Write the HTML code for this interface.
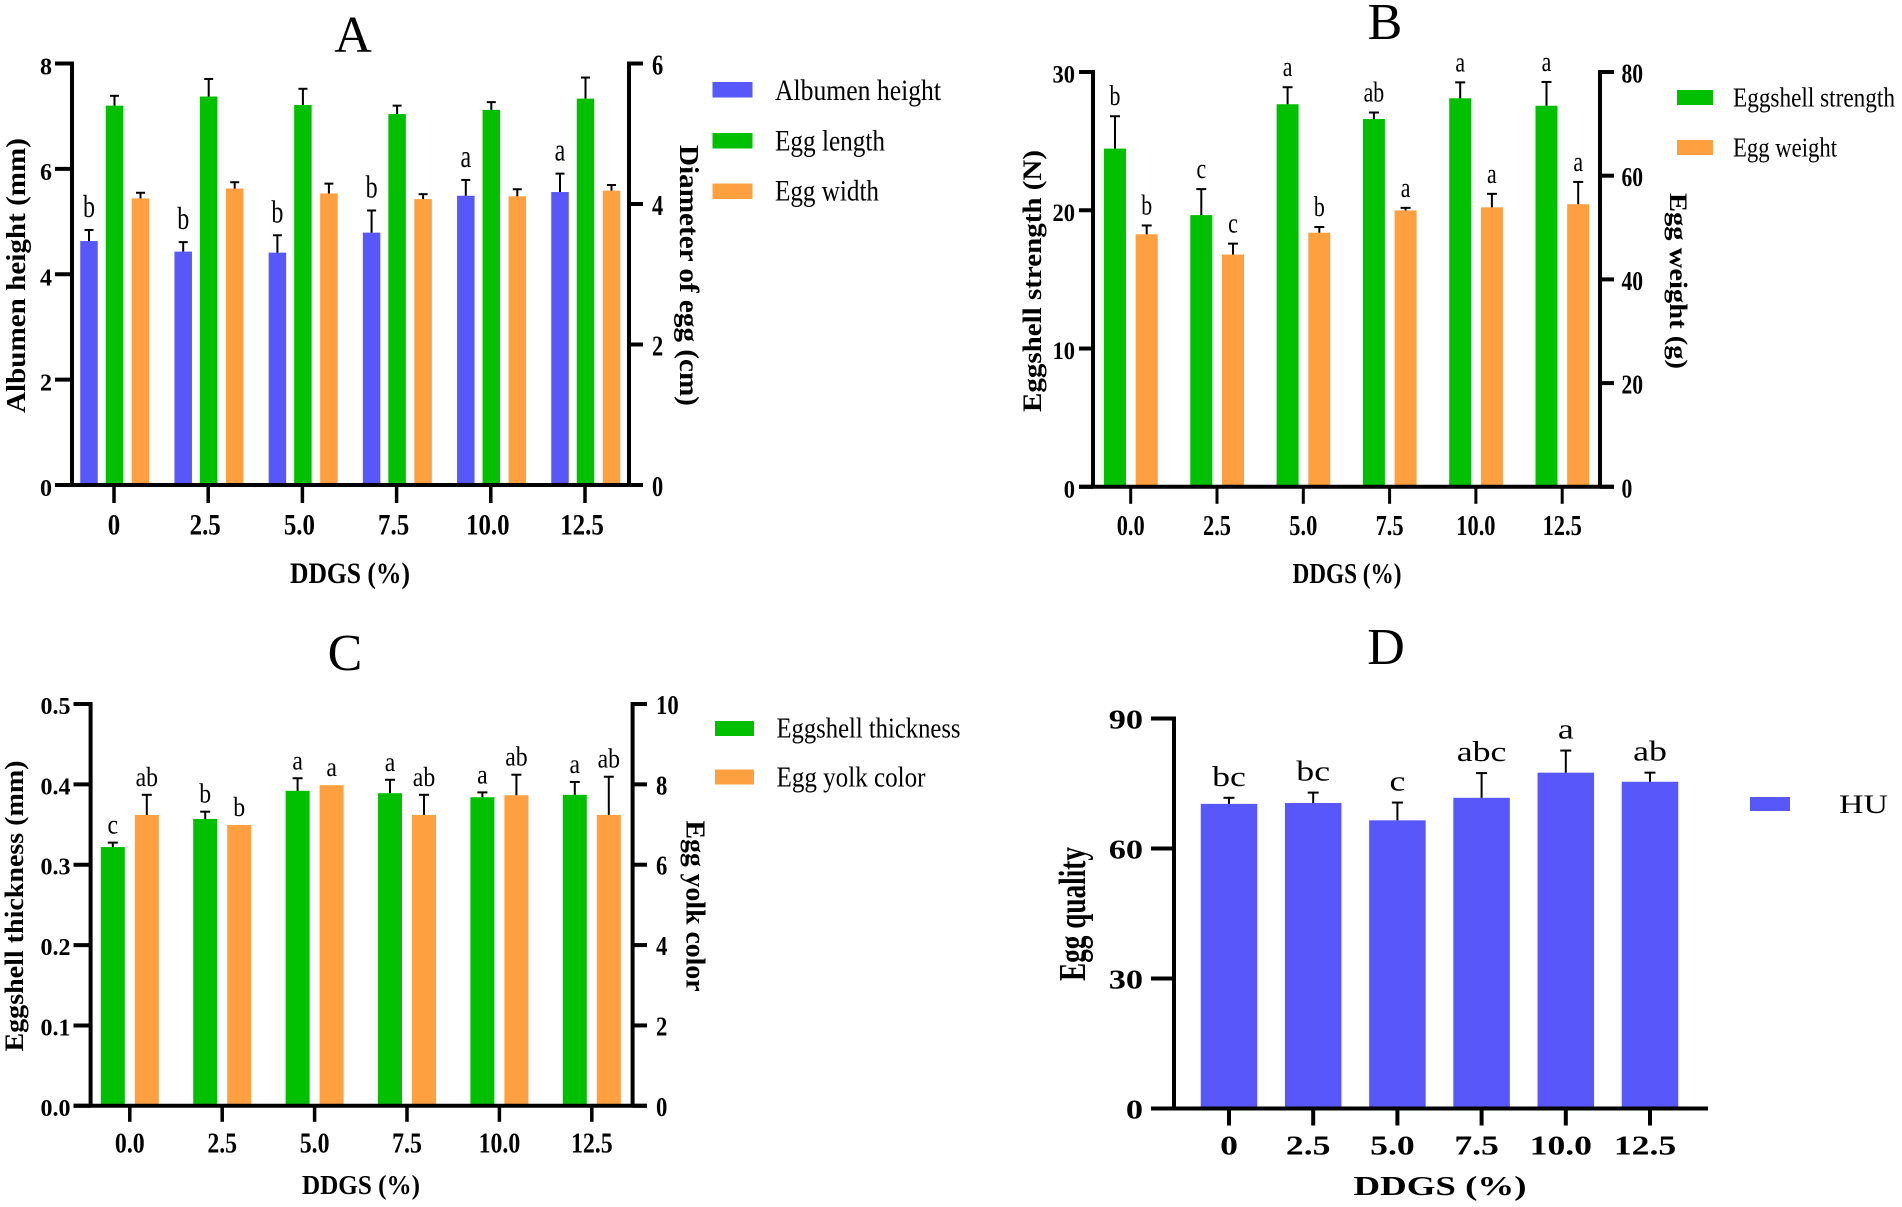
<!DOCTYPE html>
<html lang="en">
<head>
<meta charset="utf-8">
<title>Egg quality charts</title>
<style>
html,body{margin:0;padding:0;background:#fff;}
svg{display:block;font-family:"Liberation Serif",serif;}
.ttl{font-size:52px;fill:#000;text-anchor:middle;}
.axt{font-weight:bold;fill:#000;text-anchor:middle;}
.leg{fill:#000;}
</style>
</head>
<body>
<svg id="figure" xmlns="http://www.w3.org/2000/svg" width="1902" height="1207" viewBox="0 0 1902 1207">
  <rect width="1902" height="1207" fill="#fff"/>

  <g id="panel-a">
    <text class="ttl" x="353" y="52">A</text>
    <text class="axt" font-size="27" textLength="275" lengthAdjust="spacingAndGlyphs" transform="translate(25,275.5) rotate(-90)">Albumen height (mm)</text>
    <text class="axt" font-size="27" textLength="261" lengthAdjust="spacingAndGlyphs" transform="translate(680,275.5) rotate(90)">Diameter of egg (cm)</text>
    <text class="axt" font-size="30" textLength="120" lengthAdjust="spacingAndGlyphs" x="350" y="583">DDGS (%)</text>
    <g>
      <rect x="712.5" y="82" width="40" height="15.5" fill="#5757FA"/>
      <text class="leg" font-size="30" x="775" y="100" textLength="166" lengthAdjust="spacingAndGlyphs">Albumen height</text>
      <rect x="712.5" y="133" width="40" height="15.5" fill="#00C000"/>
      <text class="leg" font-size="30" x="775" y="150.5" textLength="110" lengthAdjust="spacingAndGlyphs">Egg length</text>
      <rect x="712.5" y="183.5" width="40" height="15.5" fill="#FFA040"/>
      <text class="leg" font-size="30" x="775" y="200.5" textLength="104" lengthAdjust="spacingAndGlyphs">Egg width</text>
    </g>
  </g>

  <g id="panel-b">
    <text class="ttl" x="1385" y="39">B</text>
    <text class="axt" font-size="26" textLength="262" lengthAdjust="spacingAndGlyphs" transform="translate(1041,281) rotate(-90)">Eggshell strength (N)</text>
    <text class="axt" font-size="25" textLength="176" lengthAdjust="spacingAndGlyphs" transform="translate(1670,281) rotate(90)">Egg weight (g)</text>
    <text class="axt" font-size="28" textLength="109" lengthAdjust="spacingAndGlyphs" x="1347" y="583">DDGS (%)</text>
    <g>
      <rect x="1677" y="90" width="36" height="15" fill="#00C000"/>
      <text class="leg" font-size="27" x="1733" y="106.5" textLength="162" lengthAdjust="spacingAndGlyphs">Eggshell strength</text>
      <rect x="1677" y="140" width="36" height="15" fill="#FFA040"/>
      <text class="leg" font-size="27" x="1733" y="156.5" textLength="104" lengthAdjust="spacingAndGlyphs">Egg weight</text>
    </g>
  </g>

  <g id="panel-c">
    <text class="ttl" x="345" y="670">C</text>
    <text class="axt" font-size="26" textLength="291" lengthAdjust="spacingAndGlyphs" transform="translate(23,906) rotate(-90)">Eggshell thickness (mm)</text>
    <text class="axt" font-size="27" textLength="171" lengthAdjust="spacingAndGlyphs" transform="translate(686.5,906) rotate(90)">Egg yolk color</text>
    <text class="axt" font-size="27" textLength="118" lengthAdjust="spacingAndGlyphs" x="361" y="1194">DDGS (%)</text>
    <g>
      <rect x="715" y="721" width="39" height="15" fill="#00C000"/>
      <text class="leg" font-size="28" x="776.5" y="737.5" textLength="184" lengthAdjust="spacingAndGlyphs">Eggshell thickness</text>
      <rect x="715" y="769.5" width="39" height="15" fill="#FFA040"/>
      <text class="leg" font-size="28" x="776.5" y="786.5" textLength="149" lengthAdjust="spacingAndGlyphs">Egg yolk color</text>
    </g>
  </g>

  <g id="panel-d">
    <text class="ttl" x="1386" y="664">D</text>
    <text class="axt" font-size="38" textLength="134" lengthAdjust="spacingAndGlyphs" transform="translate(1085,914) rotate(-90)">Egg quality</text>
    <text class="axt" font-size="27" textLength="173" lengthAdjust="spacingAndGlyphs" x="1440" y="1195">DDGS (%)</text>
    <g>
      <rect x="1750" y="797" width="40" height="14" fill="#5757FA"/>
      <text font-size="26" fill="#000" x="1839" y="813" textLength="49" lengthAdjust="spacingAndGlyphs">HU</text>
    </g>
  </g>
</svg>

<script>
// Panel A data
const categoriesA = ['0', '2.5', '5.0', '7.5', '10.0', '12.5'];
const albumenHeight = [4.63, 4.43, 4.41, 4.79, 5.49, 5.56];
const albumenHeightErr = [0.21, 0.18, 0.33, 0.42, 0.30, 0.35];
const albumenHeightLetters = ['b', 'b', 'b', 'b', 'a', 'a'];
const eggLength = [5.40, 5.53, 5.41, 5.28, 5.34, 5.50];
const eggLengthErr = [0.14, 0.25, 0.23, 0.12, 0.11, 0.30];
const eggWidth = [4.08, 4.22, 4.15, 4.07, 4.11, 4.19];
const eggWidthErr = [0.08, 0.09, 0.14, 0.07, 0.10, 0.08];
const leftTicksA = ['0', '2', '4', '6', '8'];
const rightTicksA = ['0', '2', '4', '6'];

// Panel B data
const categoriesB = ['0.0', '2.5', '5.0', '7.5', '10.0', '12.5'];
const eggshellStrength = [24.46, 19.65, 27.67, 26.6, 28.1, 27.56];
const eggshellStrengthErr = [2.34, 1.88, 1.23, 0.47, 1.15, 1.72];
const eggshellStrengthLetters = ['b', 'c', 'a', 'ab', 'a', 'a'];
const eggWeight = [48.7, 44.8, 49.0, 53.3, 53.9, 54.5];
const eggWeightErr = [1.7, 2.1, 1.1, 0.5, 2.6, 4.3];
const eggWeightLetters = ['b', 'c', 'b', 'a', 'a', 'a'];
const leftTicksB = ['0', '10', '20', '30'];
const rightTicksB = ['0', '20', '40', '60', '80'];

// Panel C data
const categoriesC = ['0.0', '2.5', '5.0', '7.5', '10.0', '12.5'];
const eggshellThickness = [0.322, 0.357, 0.392, 0.389, 0.384, 0.387];
const eggshellThicknessErr = [0.0055, 0.009, 0.0156, 0.0167, 0.006, 0.016];
const eggshellThicknessLetters = ['c', 'b', 'a', 'a', 'a', 'a'];
const eggYolkColor = [7.24, 6.99, 7.98, 7.24, 7.73, 7.24];
const eggYolkColorErr = [0.5, 0, 0, 0.5, 0.51, 0.95];
const eggYolkColorLetters = ['ab', 'b', 'a', 'ab', 'ab', 'ab'];
const leftTicksC = ['0.0', '0.1', '0.2', '0.3', '0.4', '0.5'];
const rightTicksC = ['0', '2', '4', '6', '8', '10'];

// Panel D data
const categoriesD = ['0', '2.5', '5.0', '7.5', '10.0', '12.5'];
const huValues = [70.3, 70.5, 66.5, 71.7, 77.5, 75.4];
const huErr = [1.4, 2.4, 4.1, 5.7, 5.1, 2.1];
const huLetters = ['bc', 'bc', 'c', 'abc', 'a', 'ab'];
const leftTicksD = ['0', '30', '60', '90'];

const SVG_NS = 'http://www.w3.org/2000/svg';

function makeLine(parent, name, x1, y1, x2, y2, width) {
  const el = document.createElementNS(SVG_NS, 'line');
  el.setAttribute('x1', x1);
  el.setAttribute('y1', y1);
  el.setAttribute('x2', x2);
  el.setAttribute('y2', y2);
  el.setAttribute('stroke', '#000');
  el.setAttribute('stroke-width', width);
  
  
  parent.appendChild(el);
  return el;
}

function makeRect(parent, name, x, y, w, h, fill) {
  const el = document.createElementNS(SVG_NS, 'rect');
  el.setAttribute('x', x);
  el.setAttribute('y', y);
  el.setAttribute('width', w);
  el.setAttribute('height', h);
  el.setAttribute('fill', fill);
  
  
  parent.appendChild(el);
  return el;
}

function makeText(parent, name, str, x, y, size, sx, anchor, bold) {
  const el = document.createElementNS(SVG_NS, 'text');
  el.textContent = str;
  el.setAttribute('transform', 'translate(' + x + ',' + y + ') scale(' + sx + ',1)');
  el.setAttribute('font-size', size);
  el.setAttribute('text-anchor', anchor);
  el.setAttribute('font-weight', bold ? 'bold' : 'normal');
  el.setAttribute('fill', '#000');
  
  
  parent.appendChild(el);
  return el;
}

function drawPanel(cfg) {
  const root = document.getElementById(cfg.id);
  const yScale = function (v, max) {
    return cfg.bottom - (v / max) * (cfg.bottom - cfg.top);
  };
  const xScale = function (i) {
    return cfg.x0 + i * cfg.step;
  };

  // bars, error bars and significance letters
  cfg.series.forEach(function (s) {
    s.values.forEach(function (v, i) {
      const cx = xScale(i) + s.offset;
      const y = yScale(v, s.max);
      makeRect(root, s.name + '-bar-' + cfg.categories[i], cx - s.width / 2, y, s.width, cfg.bottom - y, s.color);
      const top = yScale(v + s.err[i], s.max);
      if (s.err[i] > 0) {
        makeLine(root, s.name + '-error-stem-' + cfg.categories[i], cx, y, cx, top, cfg.errWidth);
        makeLine(root, s.name + '-error-cap-' + cfg.categories[i], cx - cfg.capHalf, top, cx + cfg.capHalf, top, cfg.errWidth);
      }
      if (s.letters) {
        makeText(root, s.name + '-significance-' + cfg.categories[i], s.letters[i], cx, top - cfg.letterGap, cfg.letterSize, cfg.letterSx, 'middle', false);
      }
    });
  });

  // axes
  makeLine(root, cfg.id + '-x-axis-line', cfg.baseFrom, cfg.bottom, cfg.baseTo, cfg.bottom, cfg.axisWidth);
  makeLine(root, cfg.id + '-left-y-axis-line', cfg.leftX, cfg.top - cfg.axisWidth / 2, cfg.leftX, cfg.bottom, cfg.axisWidth);
  if (cfg.rightX) {
    makeLine(root, cfg.id + '-right-y-axis-line', cfg.rightX, cfg.top - cfg.axisWidth / 2, cfg.rightX, cfg.bottom, cfg.axisWidth);
  }

  // x ticks and labels
  cfg.categories.forEach(function (c, i) {
    const x = xScale(i);
    makeLine(root, cfg.id + '-x-tick-' + c, x, cfg.bottom, x, cfg.bottom + cfg.tickLen, cfg.tickWidth);
    const shift = c === '0' ? 0 : cfg.xLabelShift;
    makeText(root, cfg.id + '-x-tick-label-' + c, c, x + shift, cfg.xLabelY, cfg.xSize, cfg.xSx, 'middle', true);
  });

  // left y ticks and labels
  const leftMax = Number(cfg.leftTicks[cfg.leftTicks.length - 1]);
  cfg.leftTicks.forEach(function (t) {
    const y = yScale(Number(t), leftMax);
    makeLine(root, cfg.id + '-left-y-tick-' + t, cfg.leftX, y, cfg.baseFrom, y, cfg.axisWidth);
    makeText(root, cfg.id + '-left-y-tick-label-' + t, t, cfg.leftLabelX, y + cfg.yLabelDy, cfg.leftSize, cfg.leftSx, 'end', true);
  });

  // right y ticks and labels
  if (cfg.rightTicks) {
    const rightMax = Number(cfg.rightTicks[cfg.rightTicks.length - 1]);
    cfg.rightTicks.forEach(function (t) {
      const y = yScale(Number(t), rightMax);
      makeLine(root, cfg.id + '-right-y-tick-' + t, cfg.rightX, y, cfg.baseTo, y, cfg.axisWidth);
      makeText(root, cfg.id + '-right-y-tick-label-' + t, t, cfg.rightLabelX, y + cfg.yLabelDy, cfg.rightSize, cfg.rightSx, 'start', true);
    });
  }
}

const BLUE = '#5757FA';
const GREEN = '#00C000';
const ORANGE = '#FFA040';

drawPanel({
  id: 'panel-a', categories: categoriesA, x0: 114, step: 94.2, top: 63.5, bottom: 485,
  baseFrom: 55, baseTo: 643, leftX: 72, rightX: 629, leftLabelX: 52, rightLabelX: 652,
  axisWidth: 4, tickWidth: 3.5, tickLen: 18, errWidth: 2, capHalf: 4.5,
  xSize: 30, xSx: 0.83, leftSize: 24, leftSx: 1, rightSize: 28, rightSx: 0.8,
  xLabelY: 534.5, xLabelShift: -3, yLabelDy: 11,
  letterSize: 32, letterSx: 0.75, letterGap: 13, leftTicks: leftTicksA, rightTicks: rightTicksA,
  series: [
    { name: 'albumen-height', values: albumenHeight, err: albumenHeightErr, letters: albumenHeightLetters, max: 8, color: BLUE, offset: -25, width: 17.5 },
    { name: 'egg-length', values: eggLength, err: eggLengthErr, max: 6, color: GREEN, offset: 0.5, width: 17.5 },
    { name: 'egg-width', values: eggWidth, err: eggWidthErr, max: 6, color: ORANGE, offset: 26.5, width: 17.5 }
  ]
});

drawPanel({
  id: 'panel-b', categories: categoriesB, x0: 1130.7, step: 86.3, top: 72, bottom: 486.8,
  baseFrom: 1079, baseTo: 1614, leftX: 1093, rightX: 1600, leftLabelX: 1075, rightLabelX: 1621.5,
  axisWidth: 4, tickWidth: 3, tickLen: 17, errWidth: 2, capHalf: 5,
  xSize: 28, xSx: 0.8, leftSize: 25, leftSx: 0.9, rightSize: 27, rightSx: 0.8,
  xLabelY: 535, xLabelShift: 0, yLabelDy: 10.5,
  letterSize: 28, letterSx: 0.78, letterGap: 11, leftTicks: leftTicksB, rightTicks: rightTicksB,
  series: [
    { name: 'eggshell-strength', values: eggshellStrength, err: eggshellStrengthErr, letters: eggshellStrengthLetters, max: 30, color: GREEN, offset: -15.7, width: 22 },
    { name: 'egg-weight', values: eggWeight, err: eggWeightErr, letters: eggWeightLetters, max: 80, color: ORANGE, offset: 16, width: 22 }
  ]
});

drawPanel({
  id: 'panel-c', categories: categoriesC, x0: 129.8, step: 92.4, top: 704, bottom: 1105.8,
  baseFrom: 73.5, baseTo: 647, leftX: 90.6, rightX: 632.6, leftLabelX: 70.5, rightLabelX: 656,
  axisWidth: 4, tickWidth: 3.5, tickLen: 16, errWidth: 2, capHalf: 5,
  xSize: 28, xSx: 0.85, leftSize: 24, leftSx: 1, rightSize: 27, rightSx: 0.84,
  xLabelY: 1152.6, xLabelShift: 0, yLabelDy: 10,
  letterSize: 27, letterSx: 0.88, letterGap: 9, leftTicks: leftTicksC, rightTicks: rightTicksC,
  series: [
    { name: 'eggshell-thickness', values: eggshellThickness, err: eggshellThicknessErr, letters: eggshellThicknessLetters, max: 0.5, color: GREEN, offset: -17, width: 24 },
    { name: 'egg-yolk-color', values: eggYolkColor, err: eggYolkColorErr, letters: eggYolkColorLetters, max: 10, color: ORANGE, offset: 17, width: 24 }
  ]
});

drawPanel({
  id: 'panel-d', categories: categoriesD, x0: 1229, step: 84.2, top: 718.5, bottom: 1108.5,
  baseFrom: 1151, baseTo: 1708, leftX: 1174, rightX: null, leftLabelX: 1143, rightLabelX: null,
  axisWidth: 4, tickWidth: 4, tickLen: 17, errWidth: 2, capHalf: 5.5,
  xSize: 27, xSx: 1.32, leftSize: 27, leftSx: 1.27,
  xLabelY: 1154.5, xLabelShift: -5, yLabelDy: 10,
  letterSize: 28, letterSx: 1.28, letterGap: 12, leftTicks: leftTicksD,
  series: [
    { name: 'hu', values: huValues, err: huErr, letters: huLetters, max: 90, color: BLUE, offset: 0, width: 56.5 }
  ]
});
</script>
</body>
</html>
